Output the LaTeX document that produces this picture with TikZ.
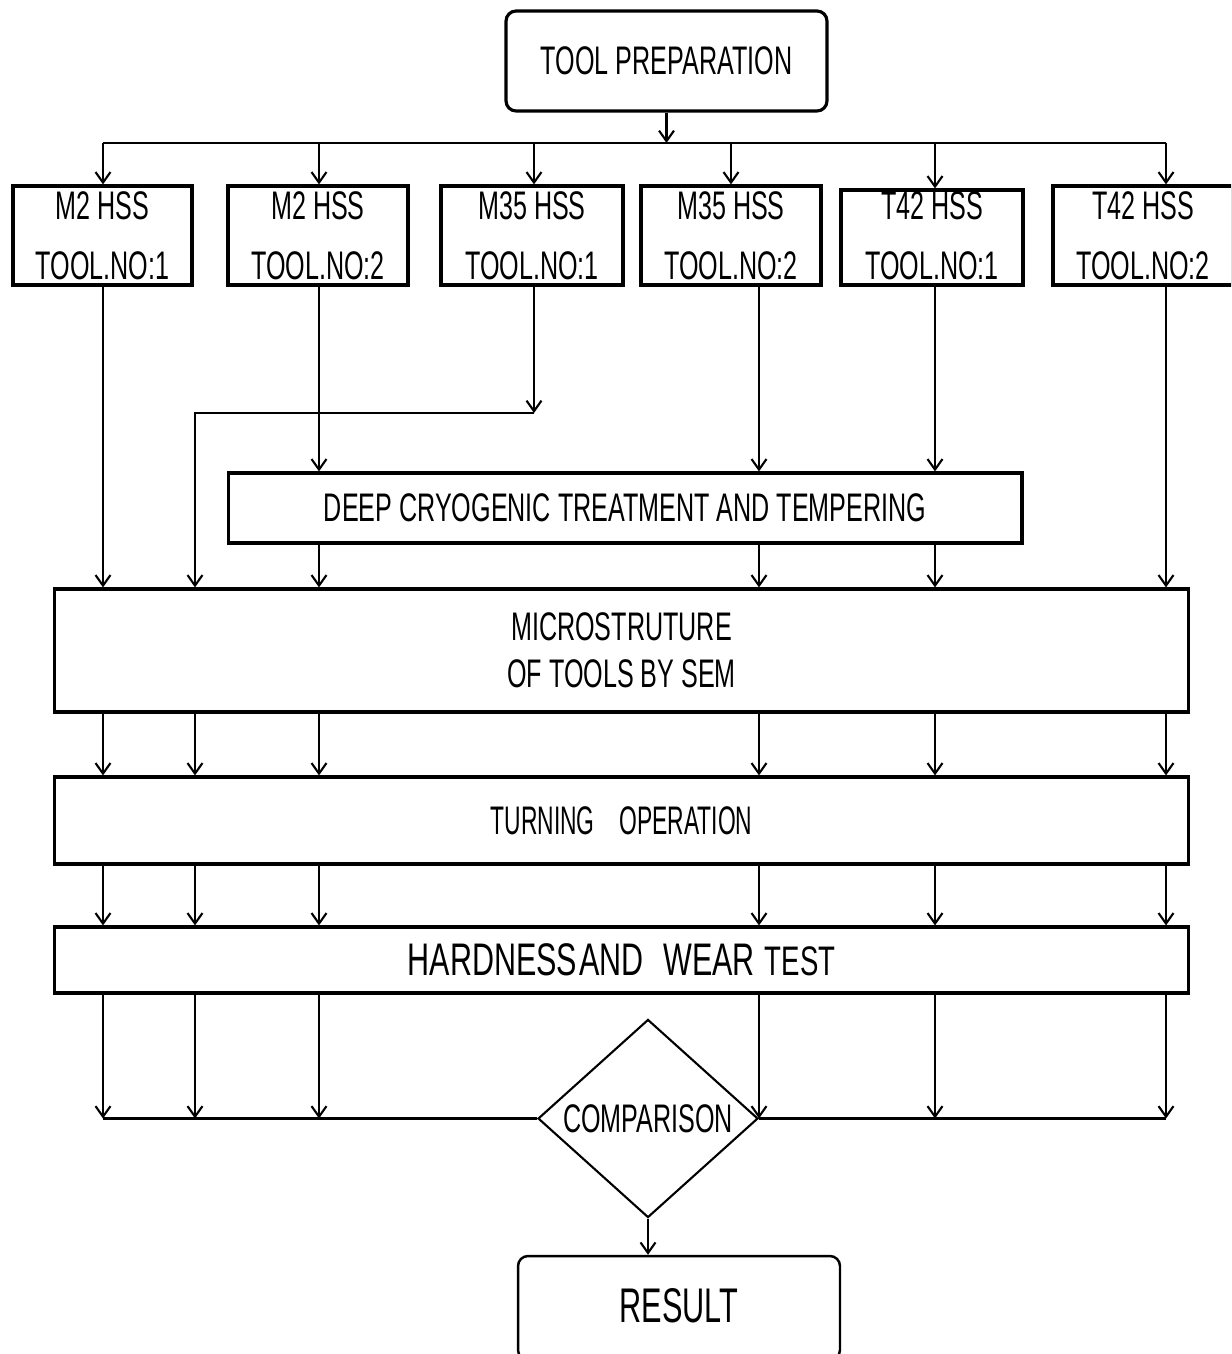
\documentclass[tikz,border=0pt]{standalone}
\usepackage{fontspec}
\usepackage{graphicx}
\usetikzlibrary{arrows.meta,shapes.geometric}
\newfontfamily\nf[FakeStretch=0.63]{Liberation Sans}
\begin{document}
\begin{tikzpicture}[x=0.02cm,y=-0.02cm,
  txt/.style={align=center, font=\nf\fontsize{22.7}{34}\selectfont},
  box/.style={draw, line width=1.8pt, inner sep=0pt, txt},
  rbox/.style={box, rounded corners=0.2cm},
  conn/.style={line width=1.2pt, -{Straight Barb[length=6pt,width=8.5pt]}},
  plain/.style={line width=1.2pt}]
\useasboundingbox (0,0) rectangle (1231,1354);
\clip (0,0) rectangle (1231,1354);

% column positions
\coordinate (c1) at (103,0);
\coordinate (c7) at (195,0);
\coordinate (c2) at (319,0);
\coordinate (c3) at (534,0);
\coordinate (c4) at (759,0);
\coordinate (c5) at (935,0);
\coordinate (c6) at (1166,0);
\coordinate (bus) at (0,143);
\coordinate (bend) at (0,413);

% nodes
\node[rbox, minimum width=6.42cm, minimum height=2.0cm] (prep) at (666.5,61) {TOOL PREPARATION};
\node[box, minimum width=3.58cm, minimum height=1.98cm] (t1) at (102.5,235.5) {M2 HSS\\TOOL.NO:1};
\node[box, minimum width=3.60cm, minimum height=1.98cm] (t2) at (318,235.5) {M2 HSS\\TOOL.NO:2};
\node[box, minimum width=3.64cm, minimum height=1.98cm] (t3) at (532,235.5) {M35 HSS\\TOOL.NO:1};
\node[box, minimum width=3.60cm, minimum height=1.98cm] (t4) at (731,235.5) {M35 HSS\\TOOL.NO:2};
\node[box, minimum width=3.64cm, minimum height=1.90cm,
      label={[txt, yshift=1.1pt]center:T42 HSS\\TOOL.NO:1}] (t5) at (932,237.5) {};
\node[box, minimum width=3.60cm, minimum height=1.98cm] (t6) at (1143,235.5) {T42 HSS\\TOOL.NO:2};

\node[box, minimum width=15.88cm, minimum height=1.40cm] (dct) at (625,508) {DEEP CRYOGENIC TREATMENT AND TEMPERING};
\node[box, minimum width=22.70cm, minimum height=2.46cm, font=\nf\fontsize{22.7}{26.6}\selectfont] (mic) at (621.5,650.5) {MICROSTRUTURE\\OF TOOLS BY SEM};
\node[box, minimum width=22.70cm, minimum height=1.74cm] (turn) at (621.5,820.5) {\scalebox{0.91}[1]{TURNING\hspace{15.5pt}OPERATION}};
\node[box, minimum width=22.70cm, minimum height=1.32cm, font=\nf\fontsize{26}{30}\selectfont] (hard) at (621.5,960)
  {\scalebox{1.06}[1]{HARDNESS\hspace{1pt}AND\hspace{10.7pt}WEAR\hspace{5.3pt}{\fontsize{23.5}{30}\selectfont TEST}}};

\node[draw, diamond, line width=1.2pt, inner sep=0pt, minimum width=4.40cm, minimum height=3.74cm, font=\nf\fontsize{22.7}{30}\selectfont] (comp) at (648,1118.5) {COMPARISON};
\node[rbox, line width=1.4pt, minimum width=6.44cm, minimum height=2.08cm, font=\nf\fontsize{27.7}{30}\selectfont] (res) at (679,1308) {\raisebox{3.4pt}{RESULT}};

% tool preparation to tools
\draw[conn] (prep.south) -- (prep.south |- bus);
\draw[plain] (c1 |- bus) -- (c6 |- bus);
\draw[conn] (c1 |- bus) -- (c1 |- t1.north);
\draw[conn] (c2 |- bus) -- (c2 |- t2.north);
\draw[conn] (c3 |- bus) -- (c3 |- t3.north);
\draw[conn] (t4.north |- bus) -- (t4.north);
\draw[conn] (c5 |- bus) -- (c5 |- t5.north);
\draw[conn] (c6 |- bus) -- (c6 |- t6.north);

% tools downwards
\draw[conn] (c1 |- t1.south) -- (c1 |- mic.north);
\draw[conn] (c2 |- t2.south) -- (c2 |- dct.north);
\draw[conn] (c3 |- t3.south) -- (c3 |- bend);
\draw[conn] (c3 |- bend) -- (c7 |- bend) -- (c7 |- mic.north);
\draw[conn] (c4 |- t4.south) -- (c4 |- dct.north);
\draw[conn] (c5 |- t5.south) -- (c5 |- dct.north);
\draw[conn] (c6 |- t6.south) -- (c6 |- mic.north);

% treatment to microstructure
\foreach \c in {c2,c4,c5}
  \draw[conn] (\c |- dct.south) -- (\c |- mic.north);

% microstructure to turning to hardness
\foreach \c in {c1,c7,c2,c4,c5,c6} {
  \draw[conn] (\c |- mic.south) -- (\c |- turn.north);
  \draw[conn] (\c |- turn.south) -- (\c |- hard.north);
  \draw[conn] (\c |- hard.south) -- (\c |- comp.west);
}

% collecting lines into comparison
\draw[plain] (c1 |- comp.west) -- (comp.west);
\draw[plain] (comp.east) -- (c6 |- comp.east);
\draw[conn] (comp.south) -- (comp.south |- res.north);
\end{tikzpicture}
\end{document}
